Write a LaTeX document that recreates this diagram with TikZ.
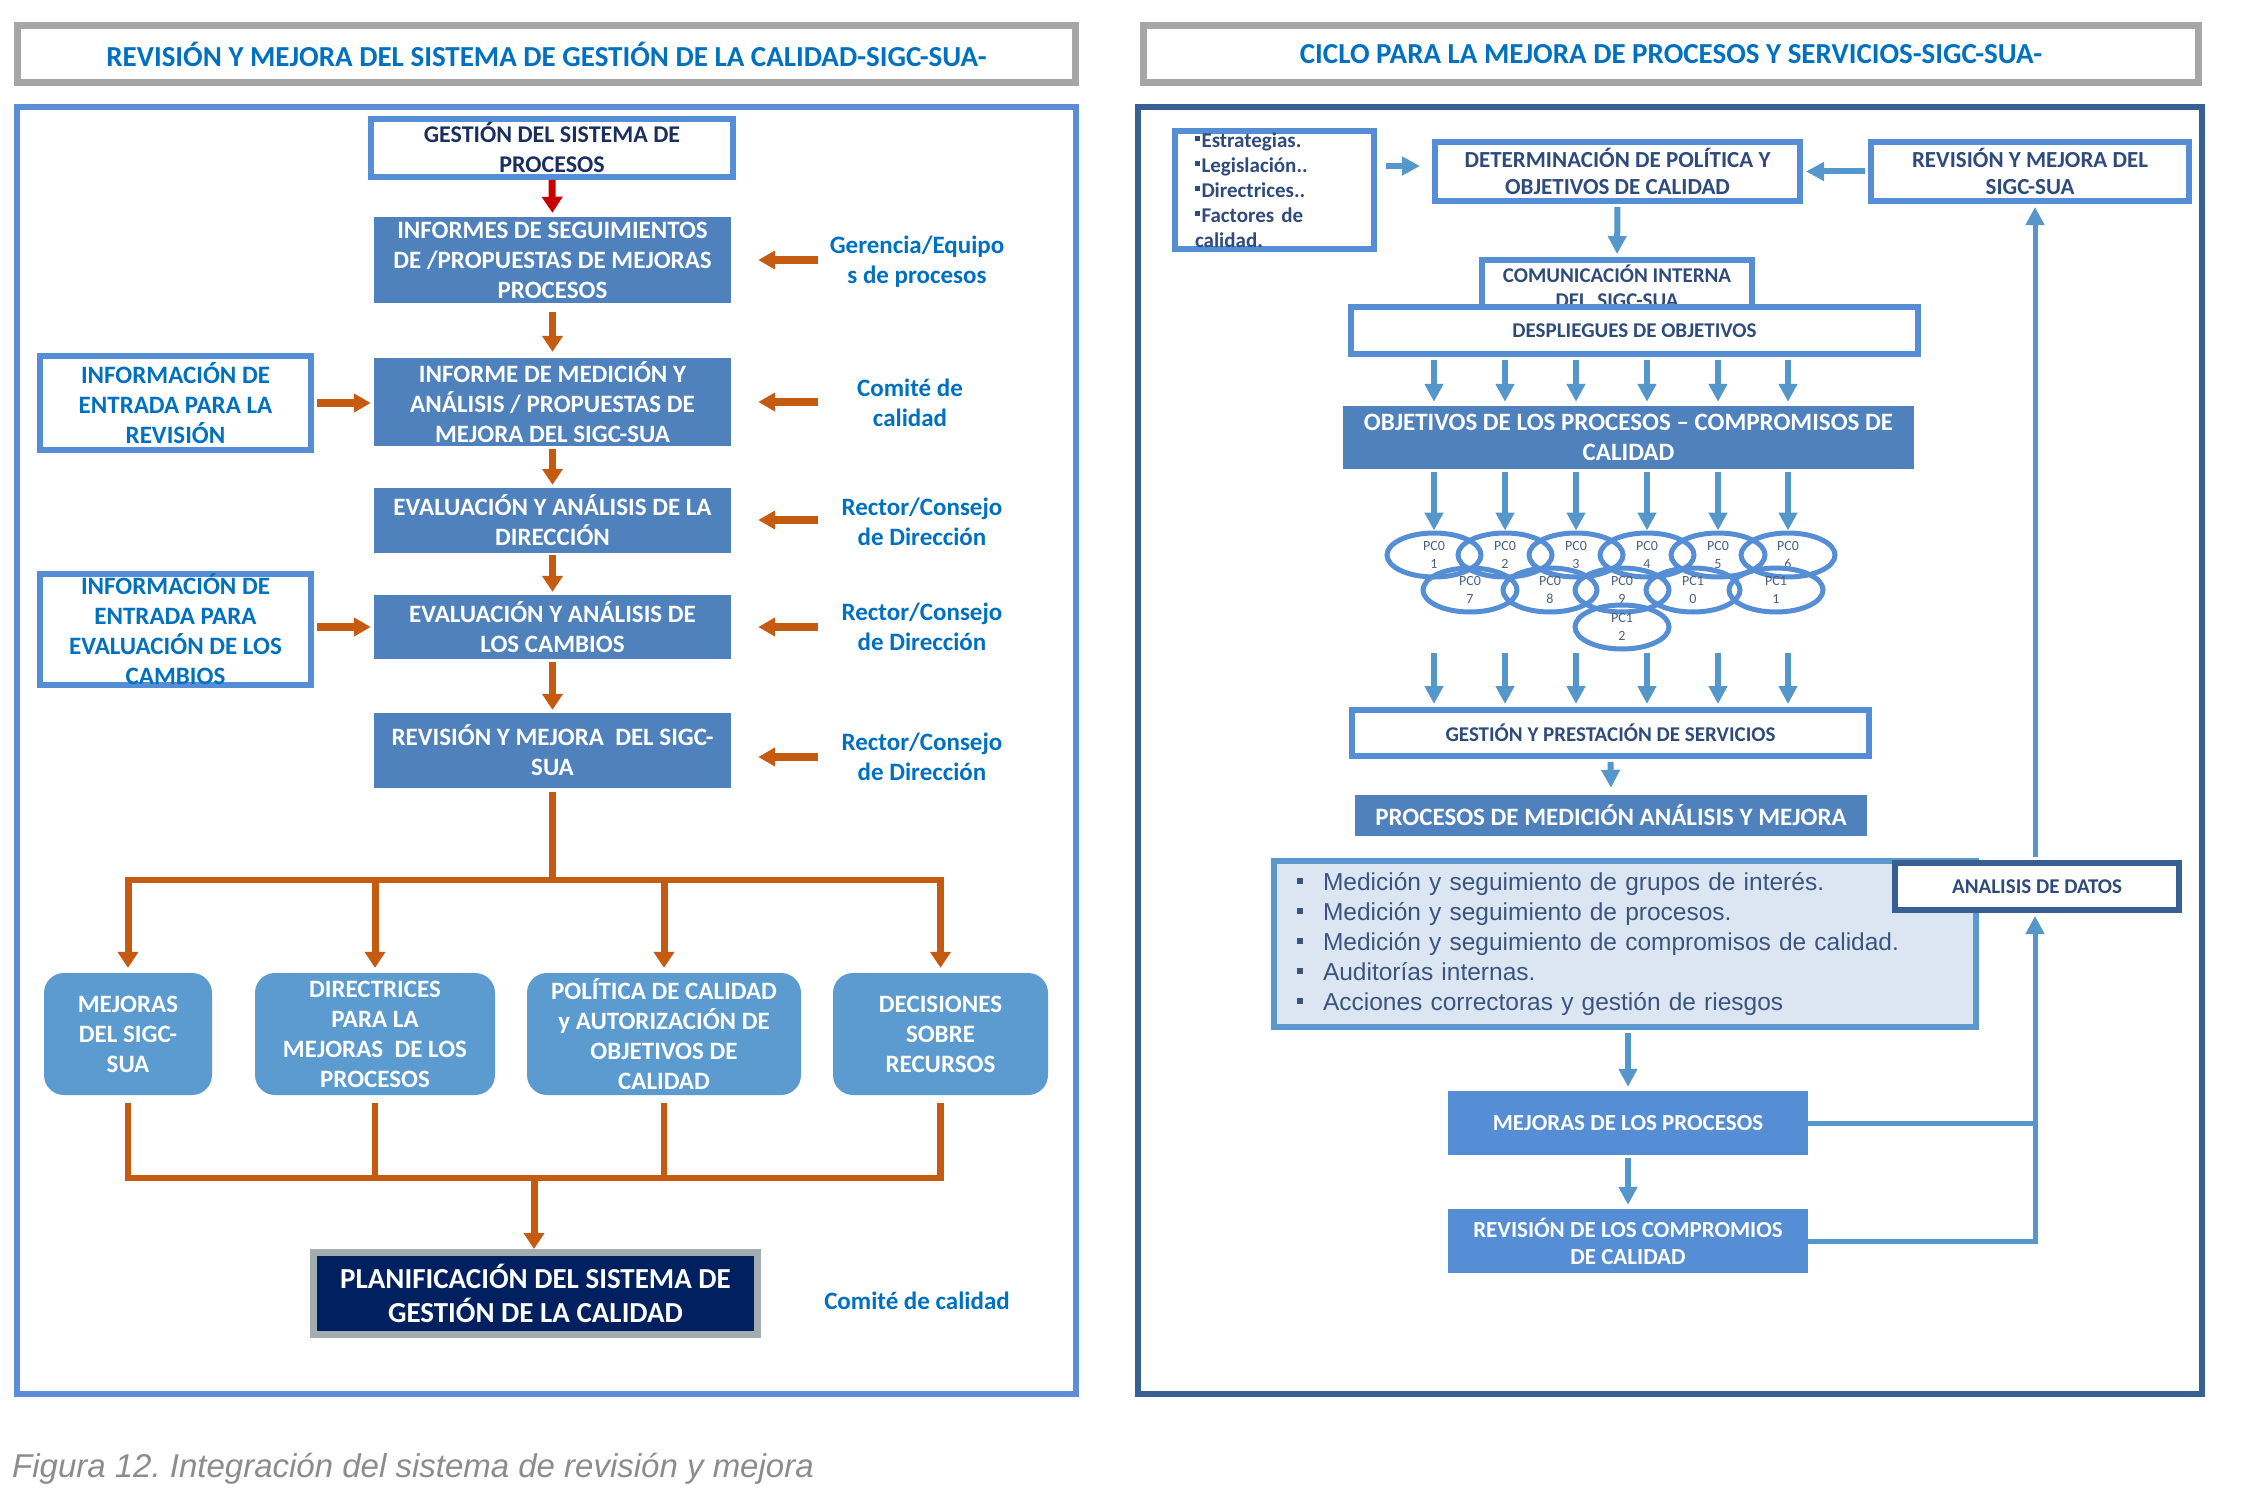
\documentclass[tikz,border=0pt]{standalone}
\usepackage{fontspec}
\setmainfont{Carlito}
\newfontfamily\arialf{Liberation Sans}
\usetikzlibrary{arrows.meta,calc,shapes.geometric}
\frenchspacing
\newcommand\myfs[2]{\fontsize{#1}{#2}\selectfont}
\newcommand\sqb{{\raisebox{6pt}{\rule{5pt}{5pt}}\hspace{1.5pt}}}
\newcommand\lbul{\makebox[26pt][l]{\raisebox{6pt}{\rule{6pt}{6pt}}}}
\definecolor{ttl}{HTML}{0070C0}
\definecolor{lpan}{HTML}{5B8ED6}
\definecolor{rpan}{HTML}{385F92}
\definecolor{gry}{HTML}{A6A6A6}
\definecolor{bx}{HTML}{4F81BD}
\definecolor{bxl}{HTML}{5B9BD0}
\definecolor{bord}{HTML}{558ED5}
\definecolor{org}{HTML}{C55A11}
\definecolor{redd}{HTML}{C80000}
\definecolor{navy}{HTML}{002060}
\definecolor{navytxt}{HTML}{1B2F5E}
\definecolor{rtxt}{HTML}{2F4B7C}
\definecolor{ltxt}{HTML}{3A5480}
\definecolor{barc}{HTML}{5597CB}
\definecolor{lfill}{HTML}{DCE6F2}
\definecolor{lbord}{HTML}{5B99CC}
\definecolor{mejc}{HTML}{558ED5}
\definecolor{capg}{HTML}{8C8C8C}
\definecolor{plang}{HTML}{A3ACB0}
\definecolor{ellc}{HTML}{558ED5}
\definecolor{elltxt}{HTML}{4A5F80}
\begin{document}
\begin{tikzpicture}[x=1pt,y=-1pt,
  ttlbox/.style={draw=gry, line width=7pt, fill=white, text=ttl, font=\bfseries\myfs{29}{34}, inner sep=0pt},
  wbox/.style={draw=bord, line width=6pt, fill=white, align=center, inner sep=0pt},
  lbox/.style={fill=bx, text=white, font=\bfseries\myfs{25}{30}, align=center, inner sep=0pt},
  rbox/.style={fill=bxl, rounded corners=20pt, text=white, font=\bfseries\myfs{25}{30}, align=center, inner sep=0pt, minimum height=122pt},
  lab/.style={text=ttl, font=\bfseries\myfs{25}{30}, align=center, inner sep=0pt},
  oarr/.style={draw=org, line width=7pt, -{Triangle[width=20pt,length=16pt]}},
  rarr/.style={draw=redd, line width=7pt, -{Triangle[width=20pt,length=16pt]}},
  oblk/.style={draw=org, line width=8pt, -{Triangle[width=18pt,length=17pt]}},
  oline/.style={draw=org, line width=6.5pt},
  barr/.style={draw=barc, line width=6pt, -{Triangle[width=18pt,length=18pt]}},
  bline/.style={draw=barc, line width=5pt},
  ellp/.style={ellipse, draw=ellc, line width=5pt, minimum width=94pt, minimum height=44pt, inner sep=0pt, text=elltxt, font=\myfs{14}{18}, align=center},
  rtx/.style={text=rtxt, font=\bfseries\myfs{21}{25}}
]
\fill[white] (0,0) rectangle (2253,1498);
\useasboundingbox (0,0) rectangle (2253,1498);

% titles and panels
\node[ttlbox, minimum width=1058pt, minimum height=57pt] (tl) at (546.5,54) {REVISIÓN Y MEJORA DEL SISTEMA DE GESTIÓN DE LA CALIDAD-SIGC-SUA-};
\node[ttlbox, minimum width=1055pt, minimum height=57pt] (tr) at (1671,54) {CICLO PARA LA MEJORA DE PROCESOS Y SERVICIOS-SIGC-SUA-};
\node[draw=lpan, line width=6pt, minimum width=1059pt, minimum height=1287pt, inner sep=0pt] (lp) at (546.5,750.5) {};
\node[draw=rpan, line width=6pt, minimum width=1064pt, minimum height=1287pt, inner sep=0pt] (rp) at (1670,750.5) {};

% ---------------- left panel ----------------
\node[wbox, text=navytxt, font=\bfseries\myfs{24}{30}, minimum width=362pt, minimum height=58pt] (gest) at (552,148) {GESTIÓN DEL SISTEMA DE\\PROCESOS};
\node[lbox, minimum width=357pt, minimum height=86pt] (inf1) at (552.5,260) {INFORMES DE SEGUIMIENTOS\\DE /PROPUESTAS DE MEJORAS\\PROCESOS};
\node[lbox, minimum width=357pt, minimum height=88pt] (inf2) at (552.5,402) {INFORME DE MEDICIÓN Y\\ANÁLISIS / PROPUESTAS DE\\MEJORA DEL SIGC-SUA};
\node[lbox, minimum width=357pt, minimum height=65pt] (ev1) at (552.5,520.5) {EVALUACIÓN Y ANÁLISIS DE LA\\DIRECCIÓN};
\node[lbox, minimum width=357pt, minimum height=64pt] (ev2) at (552.5,627) {EVALUACIÓN Y ANÁLISIS DE\\LOS CAMBIOS};
\node[lbox, minimum width=357pt, minimum height=75pt] (revm) at (552.5,750.5) {REVISIÓN Y MEJORA\ \ DEL SIGC-\\SUA};

\node[wbox, text=ttl, font=\bfseries\myfs{25}{30}, minimum width=271pt, minimum height=94pt] (info1) at (175.5,403) {INFORMACIÓN DE\\ENTRADA PARA LA\\REVISIÓN};
\node[wbox, text=ttl, font=\bfseries\myfs{25}{30}, minimum width=271pt, minimum height=111pt] (info2) at (175.5,629.5) {INFORMACIÓN DE\\ENTRADA PARA\\EVALUACIÓN DE LOS\\CAMBIOS};

\node[lab] (lab1) at (917,262) {Gerencia/Equipo\\s de procesos};
\node[lab] (lab2) at (910,402.5) {Comité de\\calidad};
\node[lab] (lab3) at (922,521.5) {Rector/Consejo\\de Dirección};
\node[lab] (lab4) at (922,627) {Rector/Consejo\\de Dirección};
\node[lab] (lab5) at (922,757) {Rector/Consejo\\de Dirección};
\node[lab] (lab6) at (917,1301) {Comité de calidad};

\node[rbox, minimum width=168pt] (b1) at (128,1034) {MEJORAS\\DEL SIGC-\\SUA};
\node[rbox, minimum width=240pt] (b2) at (375,1034) {DIRECTRICES\\PARA LA\\MEJORAS\ \ DE LOS\\PROCESOS};
\node[rbox, minimum width=274pt] (b3) at (664,1034) {POLÍTICA DE CALIDAD\\y AUTORIZACIÓN DE\\OBJETIVOS DE\\CALIDAD};
\node[rbox, minimum width=215pt] (b4) at (940.5,1034) {DECISIONES\\SOBRE\\RECURSOS};

\node[draw=plang, line width=7pt, fill=navy, text=white, font=\bfseries\myfs{29}{34}, align=center, minimum width=444pt, minimum height=82pt, inner sep=0pt] (plan) at (535.5,1293.5) {PLANIFICACIÓN DEL SISTEMA DE\\GESTIÓN DE LA CALIDAD};

% left connectors
\draw[rarr, shorten >=4pt] (gest.south) -- (inf1.north);
\draw[oarr, shorten <=9pt, shorten >=6pt] (inf1.south) -- (inf2.north);
\draw[oarr, shorten <=3pt, shorten >=3pt] (inf2.south) -- (ev1.north);
\draw[oarr, shorten <=2pt, shorten >=3pt] (ev1.south) -- (ev2.north);
\draw[oarr, shorten <=3pt, shorten >=3pt] (ev2.south) -- (revm.north);
\draw[oblk, shorten <=3pt, shorten >=3pt] (info1.east) -- (info1.east -| inf2.west);
\draw[oblk, shorten <=3pt, shorten >=3pt] (info2.east |- ev2.west) -- (ev2.west);

\coordinate (a1) at (818,260);
\coordinate (a2) at (818,402);
\coordinate (a3) at (818,520);
\coordinate (a4) at (818,627);
\coordinate (a5) at (818,757);
\draw[oblk, shorten >=27pt] (a1) -- (a1 -| inf1.east);
\draw[oblk, shorten >=27pt] (a2) -- (a2 -| inf2.east);
\draw[oblk, shorten >=27pt] (a3) -- (a3 -| ev1.east);
\draw[oblk, shorten >=27pt] (a4) -- (a4 -| ev2.east);
\draw[oblk, shorten >=27pt] (a5) -- (a5 -| revm.east);

\coordinate (hb) at (552.5,880);
\draw[oline, shorten <=4pt] (revm.south) -- (hb);
\draw[oline, line cap=rect] (b1.north |- hb) -- (b4.north |- hb);
\foreach \b in {b1,b2,b3,b4}{
  \draw[oarr, shorten >=5pt] (\b.north |- hb) -- (\b.north);
  \draw[oline, shorten <=8pt] (\b.south) -- (\b.south |- 0,1178);
}
\coordinate (hc) at (534,1178);
\draw[oline, line cap=rect] (b1.south |- hc) -- (b4.south |- hc);
\draw[oarr] (hc) -- (hc |- plan.north);

% ---------------- right panel ----------------
\node[wbox, rtx, align=left, text width=159pt, inner xsep=20pt, inner ysep=0pt, minimum width=199pt, minimum height=118pt] (bul) at (1274.5,190)
  {\sqb Estrategias.\\\sqb Legislación..\\\sqb Directrices..\\\sqb Factores de\\calidad.};
\node[wbox, text=rtxt, font=\bfseries\myfs{23}{27}, minimum width=365pt, minimum height=59pt] (det) at (1617.5,171.5) {DETERMINACIÓN DE POLÍTICA Y\\OBJETIVOS DE CALIDAD};
\node[wbox, text=rtxt, font=\bfseries\myfs{23}{27}, minimum width=318pt, minimum height=59pt] (rev) at (2030,171.5) {REVISIÓN Y MEJORA DEL\\SIGC-SUA};
\node[wbox, rtx, minimum width=270pt, minimum height=53pt] (com) at (1617,286.5) {COMUNICACIÓN INTERNA\\DEL\ \ SIGC-SUA};
\node[wbox, rtx, minimum width=567pt, minimum height=47pt] (desp) at (1634.5,330.5) {DESPLIEGUES DE OBJETIVOS};
\node[lbox, font=\bfseries\myfs{25}{30}, minimum width=571pt, minimum height=63pt] (obj) at (1628.5,437.5) {OBJETIVOS DE LOS PROCESOS – COMPROMISOS DE\\CALIDAD};

\node[ellp] (e1) at (1434,555) {PC0\\1};
\node[ellp] (e2) at (1505,555) {PC0\\2};
\node[ellp] (e3) at (1576,555) {PC0\\3};
\node[ellp] (e4) at (1647,555) {PC0\\4};
\node[ellp] (e5) at (1718,555) {PC0\\5};
\node[ellp] (e6) at (1788,555) {PC0\\6};
\node[ellp] (e7) at (1470,590) {PC0\\7};
\node[ellp] (e8) at (1550,590) {PC0\\8};
\node[ellp] (e9) at (1622,590) {PC0\\9};
\node[ellp] (e10) at (1693,590) {PC1\\0};
\node[ellp] (e11) at (1776,590) {PC1\\1};
\node[ellp] (e12) at (1622,627) {PC1\\2};

\node[wbox, rtx, minimum width=517pt, minimum height=46pt] (gps) at (1610.5,733) {GESTIÓN Y PRESTACIÓN DE SERVICIOS};
\node[lbox, font=\bfseries\myfs{25}{28}, minimum width=512pt, minimum height=41pt] (pma) at (1611,815.5) {PROCESOS DE MEDICIÓN ANÁLISIS Y MEJORA};
\node[draw=lbord, line width=6pt, fill=lfill, text=ltxt, font=\arialf\myfs{24.5}{30}, align=left, text width=656pt, inner xsep=23pt, inner ysep=0pt, minimum width=702pt, minimum height=166pt] (list) at (1625,944)
  {\lbul Medición y seguimiento de grupos de interés.\\\lbul Medición y seguimiento de procesos.\\\lbul Medición y seguimiento de compromisos de calidad.\\\lbul Auditorías internas.\\\lbul Acciones correctoras y gestión de riesgos};
\node[draw=rpan, line width=6pt, fill=white, text=rtxt, font=\bfseries\myfs{21}{25}, inner sep=0pt, minimum width=284pt, minimum height=47pt] (ana) at (2037,886.5) {ANALISIS DE DATOS};
\node[fill=mejc, text=white, font=\bfseries\myfs{23}{27}, inner sep=0pt, minimum width=360pt, minimum height=64pt] (mej) at (1628,1123) {MEJORAS DE LOS PROCESOS};
\node[fill=mejc, text=white, font=\bfseries\myfs{23}{27}, align=center, inner sep=0pt, minimum width=360pt, minimum height=64pt] (revc) at (1628,1241) {REVISIÓN DE LOS COMPROMIOS\\DE CALIDAD};

% right connectors
\coordinate (ba) at (1386,166);
\draw[barr, shorten >=12pt] (ba) -- (ba -| det.west);
\draw[barr, shorten <=3pt, shorten >=3pt] (rev.west) -- (det.east);
\draw[barr, shorten <=3pt, shorten >=3pt] (det.south) -- (com.north);
\foreach \i/\x in {1/1434,2/1505,3/1576,4/1647,5/1718,6/1788}{
  \coordinate (c\i) at (\x,0);
  \draw[barr, shorten <=3pt, shorten >=4pt] (desp.south -| c\i) -- (obj.north -| c\i);
  \draw[barr, shorten <=3pt] (obj.south -| c\i) -- (e\i.north);
  \draw[barr, shorten <=73pt, shorten >=3pt] (e\i.south) -- (gps.north -| c\i);
}
\draw[barr, shorten <=3pt, shorten >=7pt] (gps.south) -- (pma.north);
\draw[barr, shorten <=3pt, shorten >=4pt] (list.south -| mej.north) -- (mej.north);
\draw[barr, shorten <=3pt, shorten >=4pt] (mej.south) -- (revc.north);
\coordinate (jc) at (2035,1241);
\draw[bline] (mej.east) -- (mej.east -| jc);
\draw[barr, line width=5pt, shorten >=3pt] (revc.east) -- (jc) -- (jc |- ana.south);
\draw[barr, line width=5pt, shorten <=3pt, shorten >=3pt] (jc |- ana.north) -- (jc |- rev.south);

% caption
\node[anchor=west, font=\arialf\itshape\myfs{33}{38}, text=capg, inner sep=0pt] (cap) at (12,1469) {Figura 12. Integración del sistema de revisión y mejora};
\end{tikzpicture}
\end{document}
